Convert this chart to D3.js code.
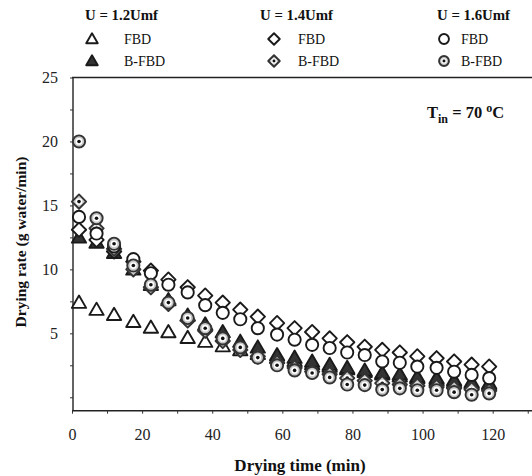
<!DOCTYPE html>
<html>
<head>
<meta charset="utf-8">
<script src="https://cdn.jsdelivr.net/npm/d3@7"></script>
<style>
  html, body { margin: 0; padding: 0; background: #fff; }
  svg { display: block; font-family: "Liberation Serif", "DejaVu Serif", serif; }
</style>
</head>
<body>
<svg id="chart" width="532" height="476"></svg>
<script>
// Drying time (min) at which each rate was sampled
const dryingTime = [2, 7, 12, 17.5, 22.5, 27.5, 33, 38, 43, 48, 53, 58.5,
                    63.5, 68.5, 73.5, 78.5, 83.5, 88.5, 93.5, 98.5, 104, 109, 114, 119];

// Drying rate (g water/min) for each air velocity and dryer type
const fbd12  = [7.4, 6.85, 6.45, 5.9, 5.45, 5.1, 4.65, 4.35, 4.0, 3.7, 3.4, 3.1,
                2.85, 2.6, 2.4, 2.2, 2.0, 1.8, 1.65, 1.5, 1.35, 1.2, 1.1, 1.0];
const bfbd12 = [12.5, 12.1, 11.3, 10.0, 8.8, 7.6, 6.4, 5.7, 5.1, 4.35, 3.9, 3.3,
                3.1, 2.8, 2.55, 2.3, 2.1, 1.9, 1.8, 1.6, 1.5, 1.35, 1.2, 1.1];
const fbd14  = [13.1, 12.3, 11.4, 10.6, 9.9, 9.2, 8.6, 7.95, 7.4, 6.85, 6.3, 5.8,
                5.4, 5.1, 4.6, 4.3, 3.95, 3.7, 3.5, 3.2, 3.05, 2.8, 2.55, 2.4];
const bfbd14 = [15.3, 13.2, 11.6, 10.0, 8.6, 7.3, 6.0, 5.2, 4.4, 3.7, 3.2, 2.7,
                2.3, 2.0, 1.8, 1.5, 1.3, 1.1, 1.0, 0.9, 0.8, 0.7, 0.6, 0.5];
const fbd16  = [14.1, 12.8, 11.8, 10.8, 9.7, 8.8, 8.2, 7.2, 6.6, 6.1, 5.4, 4.9,
                4.5, 4.1, 3.85, 3.5, 3.3, 2.8, 2.7, 2.4, 2.3, 2.0, 1.75, 1.5];
const bfbd16 = [20.0, 14.0, 12.0, 10.3, 8.8, 7.4, 6.2, 5.4, 4.6, 3.9, 3.1, 2.5,
                2.1, 1.9, 1.55, 1.0, 0.95, 0.6, 0.7, 0.55, 0.55, 0.4, 0.2, 0.3];

// Legend / axis text
const velocityLabels = ["U = 1.2Umf", "U = 1.4Umf", "U = 1.6Umf"];
const dryerLabels = ["FBD", "B-FBD"];
const xTickValues = [0, 20, 40, 60, 80, 100, 120];
const yTickValues = [5, 10, 15, 20, 25];

const series = [
  { values: fbd12,  shape: "triangle", style: "open" },
  { values: bfbd12, shape: "triangle", style: "filled" },
  { values: fbd14,  shape: "diamond",  style: "open" },
  { values: bfbd14, shape: "diamond",  style: "dotted" },
  { values: fbd16,  shape: "circle",   style: "open" },
  { values: bfbd16, shape: "circle",   style: "dotted" }
];

const svg = d3.select("#chart");

const x = d3.scaleLinear().domain([0, 131.5]).range([72, 533]);
const y = d3.scaleLinear().domain([-1.05, 25]).range([410.7, 77.5]);

// Marker path generators (centred on 0,0)
function markerPath(shape, s) {
  if (shape === "triangle") {
    const h = s * 0.9;
    return `M0,${-h * 0.6}L${s * 0.55},${h * 0.45}L${-s * 0.55},${h * 0.45}Z`;
  }
  if (shape === "diamond") {
    const r = s * 0.55;
    return `M0,${-r}L${r},0L0,${r}L${-r},0Z`;
  }
  return d3.symbol(d3.symbolCircle, Math.PI * (s * 0.47) ** 2)();
}

function drawMarker(g, shape, style, s) {
  const fill = style === "filled" ? "#333" : (style === "dotted" ? "#c8c8c8" : "#fff");
  const stroke = style === "dotted" ? "#333" : "#1a1a1a";
  g.append("path")
    .attr("d", markerPath(shape, s))
    .attr("fill", fill)
    .attr("stroke", stroke)
    .attr("stroke-width", 1.9)
    .attr("stroke-linejoin", "round");
  if (style === "dotted") {
    g.append("circle").attr("r", s * 0.26).attr("fill", "#fff");
    g.append("circle").attr("r", s * 0.14).attr("fill", "#111");
  }
}

// Plot frame: top border and axes
const plot = svg.append("g");
plot.append("line")
  .attr("x1", x(0)).attr("x2", 532).attr("y1", y(25)).attr("y2", y(25))
  .attr("stroke", "#222").attr("stroke-width", 1.4);

const xAxis = d3.axisBottom(x)
  .tickValues(d3.range(0, 131, 10))
  .tickSize(3)
  .tickFormat(d => xTickValues.includes(d) ? d : "");
const xg = plot.append("g").attr("transform", `translate(0,${y.range()[0]})`).call(xAxis);
xg.select(".domain").attr("d", `M${x(0)},0H532`).attr("stroke", "#222").attr("stroke-width", 1.4);
xg.selectAll(".tick line").attr("stroke", "#333");
xg.selectAll(".tick text")
  .attr("y", 18)
  .attr("font-family", "Liberation Serif, serif")
  .attr("font-size", 16)
  .attr("fill", "#222");

const yAxis = d3.axisLeft(y)
  .tickValues(d3.range(0, 25.1, 2.5))
  .tickSize(3)
  .tickFormat(d => yTickValues.includes(d) ? d : "");
const yg = plot.append("g").attr("transform", `translate(${x(0) + 1},0)`).call(yAxis);
yg.select(".domain").attr("d", `M0,${y(25)}V${y.range()[0]}`).attr("stroke", "#222").attr("stroke-width", 1.4);
yg.selectAll(".tick line").attr("stroke", "#333");
yg.selectAll(".tick text")
  .attr("x", -15)
  .attr("font-family", "Liberation Serif, serif")
  .attr("font-size", 16)
  .attr("fill", "#222");

// Axis titles
svg.append("text")
  .attr("x", 300).attr("y", 471)
  .attr("text-anchor", "middle")
  .attr("font-weight", "bold").attr("font-size", 17).attr("fill", "#111")
  .text("Drying time (min)");
svg.append("text")
  .attr("transform", "translate(26,242) rotate(-90)")
  .attr("text-anchor", "middle")
  .attr("font-weight", "bold").attr("font-size", 15.5).attr("fill", "#111")
  .text("Drying rate (g water/min)");

// Inlet temperature note
const tin = svg.append("text")
  .attr("x", 427).attr("y", 118)
  .attr("font-weight", "bold").attr("font-size", 16.5).attr("fill", "#111");
tin.append("tspan").text("T");
tin.append("tspan").attr("dy", 5).attr("font-size", 12).text("in");
tin.append("tspan").attr("dy", -5).text(" = 70 ");
tin.append("tspan").attr("dy", -6).attr("font-size", 12).text("o");
tin.append("tspan").attr("dy", 6).text("C");

// Data markers
const markers = svg.append("g");
series.forEach(sr => {
  sr.values.forEach((v, i) => {
    const g = markers.append("g")
      .attr("transform", `translate(${x(dryingTime[i])},${y(v)})`);
    drawMarker(g, sr.shape, sr.style, 13);
  });
});

// Legend: three velocity columns, two dryer rows
const legendCols = [
  { title: 85, mark: 92, text: 124 },
  { title: 260, mark: 274, text: 298 },
  { title: 437, mark: 444, text: 461 }
];
velocityLabels.forEach((lbl, c) => {
  const col = legendCols[c];
  svg.append("text")
    .attr("x", col.title).attr("y", 20)
    .attr("font-weight", "bold").attr("font-size", 14).attr("fill", "#111")
    .attr("textLength", 73).attr("lengthAdjust", "spacingAndGlyphs")
    .text(lbl);
  dryerLabels.forEach((dl, r) => {
    const sr = series[c * 2 + r];
    const cy = 39 + r * 22;
    const g = svg.append("g").attr("transform", `translate(${col.mark},${cy})`);
    drawMarker(g, sr.shape, sr.style, 10.5);
    svg.append("text")
      .attr("x", col.text).attr("y", cy + 5)
      .attr("font-size", 14).attr("fill", "#111")
      .text(dl);
  });
});
</script>
</body>
</html>
